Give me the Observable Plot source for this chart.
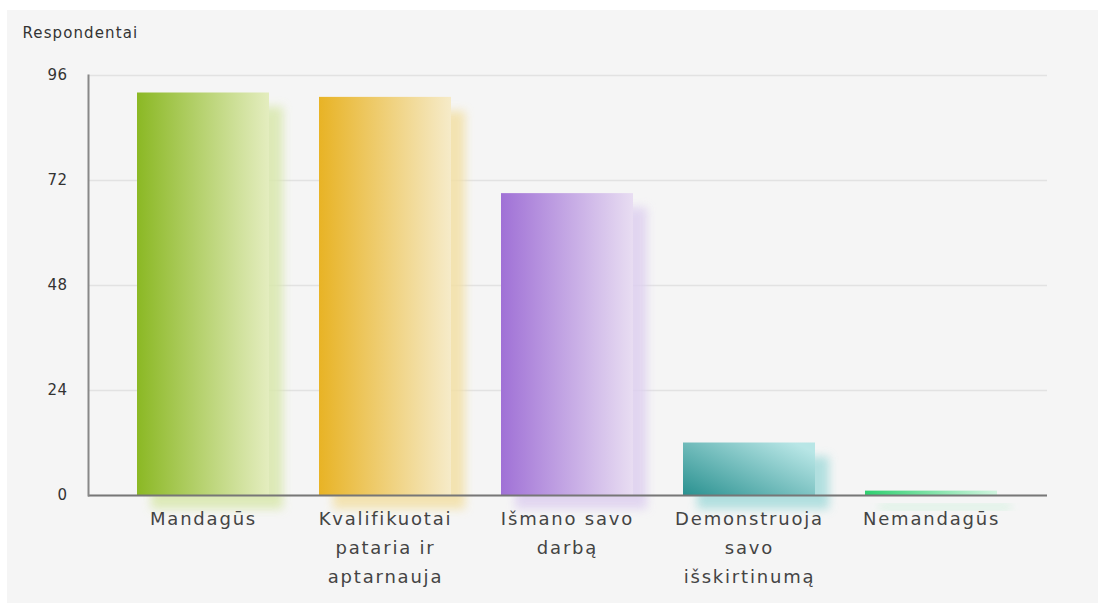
<!DOCTYPE html>
<html><head><meta charset="utf-8">
<script src="https://cdn.jsdelivr.net/npm/d3@7"></script>
<script src="https://cdn.jsdelivr.net/npm/@observablehq/plot@0.6"></script>
<style>
body{margin:0;background:#fff;width:1098px;height:606px;overflow:hidden;position:relative;}
#panel{position:absolute;left:7px;top:10px;width:1091px;height:593px;background:#f5f5f5;}
#chart{position:absolute;left:0;top:0;}
#chart svg{background:transparent;}
</style></head><body><div id="panel"></div><div id="chart"></div>
<script>
const categories = ["Mandagūs", "Kvalifikuotai pataria ir aptarnauja", "Išmano savo darbą", "Demonstruoja savo išskirtinumą", "Nemandagūs"];
const tickLabels = ["Mandagūs", "Kvalifikuotai\npataria ir\naptarnauja", "Išmano savo\ndarbą", "Demonstruoja\nsavo\nišskirtinumą", "Nemandagūs"];
const values = [92, 91, 69, 12, 1];
const yTicks = [0, 24, 48, 72, 96];
const darkColors = ["#8bb824", "#e8b325", "#a071d6", "#2a9190", "#2fd070"];
const lightColors = ["#e4edbf", "#f6ebc9", "#e8ddf2", "#b8e6e6", "#d0f5df"];
const shadowColors = ["#d9e8ad", "#f3e0a6", "#ded0f0", "#a6dcdc", "#c3f0d4"];
const yLabel = "Respondentai";

const data = categories.map((c, i) => ({category: c, value: values[i]}));
const labelMap = new Map(categories.map((c, i) => [c, tickLabels[i]]));

const font = "'DejaVu Sans', Verdana, sans-serif";

const shadowMarks = data.map((d, i) => Plot.barY([d], {x: "category", y: "value", fill: shadowColors[i], dx: 14, dy: 14}));
const barMarks = data.map((d, i) => Plot.barY([d], {x: "category", y: "value", fill: `url(#g${i})`}));

const plot = Plot.plot({
  width: 1098,
  height: 606,
  marginLeft: 88,
  marginRight: 51,
  marginTop: 75,
  marginBottom: 111,
  style: {fontFamily: font, background: "transparent", color: "#333"},
  x: {domain: categories, paddingInner: 0.274, paddingOuter: 0.268, label: null},
  y: {domain: [0, 96], label: null},
  marks: [
    Plot.gridY(yTicks, {stroke: "#e2e2e2", strokeOpacity: 1, strokeWidth: 1.5}),
    ...shadowMarks,
    ...barMarks,
    Plot.axisY(yTicks, {tickSize: 0, tickPadding: 21, fontSize: 15, fill: "#333", label: null}),
    Plot.axisX({tickSize: 0, tickPadding: 9, fontSize: 18, fill: "#444", lineHeight: 1.6, tickFormat: d => labelMap.get(d), label: null}),
    Plot.ruleY([0], {stroke: "#777", strokeWidth: 2}),
    Plot.frame({anchor: "left", stroke: "#888", strokeWidth: 2}),
    Plot.text([yLabel], {frameAnchor: "top-left", lineAnchor: "middle", dx: -66, dy: -42, textAnchor: "start", fontSize: 15, fill: "#333"})
  ]
});

const svg = d3.select(plot);
const defs = svg.insert("defs", ":first-child");
darkColors.forEach((c, i) => {
  const diag = i === 3;
  const g = defs.append("linearGradient").attr("id", `g${i}`)
    .attr("x1", 0).attr("y1", diag ? 1 : 0).attr("x2", 1).attr("y2", diag ? 0.2 : 0);
  g.append("stop").attr("offset", "0%").attr("stop-color", c);
  g.append("stop").attr("offset", "100%").attr("stop-color", lightColors[i]);
});
const f = defs.append("filter").attr("id", "blur").attr("x", "-30%").attr("y", "-30%").attr("width", "160%").attr("height", "160%");
f.append("feGaussianBlur").attr("stdDeviation", 5);
svg.selectAll('g[aria-label="bar"]').each(function(d, i) {
  if (i < shadowMarks.length) d3.select(this).attr("filter", "url(#blur)").attr("opacity", 0.85);
});
svg.selectAll('g[aria-label="x-axis tick label"] text').style("letter-spacing", "1.8px");
svg.selectAll('g[aria-label="y-axis tick label"] text').style("letter-spacing", "0.5px");
svg.selectAll('g[aria-label="text"] text').style("letter-spacing", "1.1px");
document.getElementById("chart").appendChild(plot);
</script>
</body></html>
